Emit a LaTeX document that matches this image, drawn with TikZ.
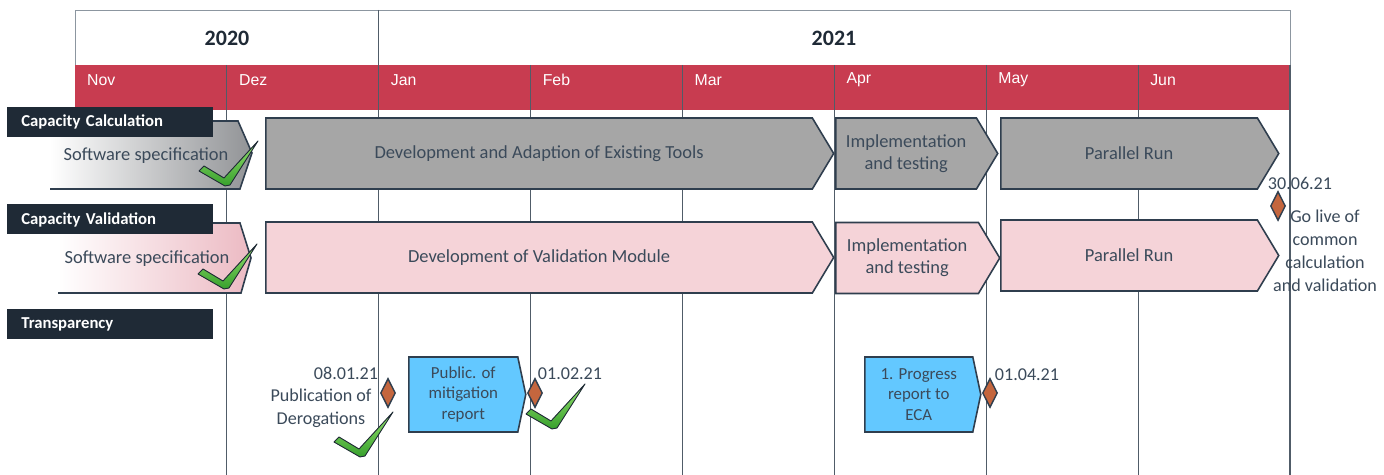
\documentclass[tikz,border=0pt]{standalone}
\usepackage{fontspec}
\setmainfont{Carlito}
\newfontfamily\monthfont{Liberation Sans}
\usetikzlibrary{shapes.symbols,shapes.geometric}
\definecolor{headred}{RGB}{200,60,80}
\definecolor{labeldark}{RGB}{31,42,54}
\definecolor{slate}{RGB}{59,74,90}
\definecolor{barline}{RGB}{47,62,78}
\definecolor{headline}{RGB}{140,150,160}
\definecolor{gridline}{RGB}{80,92,104}
\definecolor{calcgray}{RGB}{166,166,166}
\definecolor{specgray}{RGB}{145,147,150}
\definecolor{valpink}{RGB}{245,211,216}
\definecolor{specpink}{RGB}{236,186,195}
\definecolor{reportblue}{RGB}{99,200,255}
\definecolor{mileorange}{RGB}{196,102,62}
\definecolor{ticklight}{RGB}{150,225,110}
\definecolor{tickdeep}{RGB}{55,160,45}

\begin{document}
\begin{tikzpicture}[x=0.02cm, y=-0.02cm,
    month/.style={anchor=west, text=white, font=\monthfont\fontsize{9}{11}\selectfont},
    year/.style={text=labeldark, font=\bfseries\fontsize{12.5}{15}\selectfont},
    rowlabel/.style={anchor=west, fill=labeldark, text=white, text width=3.56cm, inner xsep=0.28cm, inner ysep=0pt, minimum height=0.6cm, align=left, font=\bfseries\fontsize{9.5}{11}\selectfont},
    chev/.style={shape=signal, signal to=east, signal pointer angle=118, draw=barline, line width=0.9pt, anchor=west, minimum height=1.42cm, inner sep=0pt, align=center, text=slate, font=\fontsize{10.5}{12.5}\selectfont},
    report/.style={shape=signal, signal to=east, signal pointer angle=156, fill=reportblue, draw=barline, line width=0.9pt, anchor=west, minimum height=1.5cm, inner sep=0pt, align=center, text=slate, font=\fontsize{9.6}{11.7}\selectfont},
    note/.style={text=slate, align=center, inner sep=0pt, font=\fontsize{10.3}{13}\selectfont},
    milestone/.style={shape=diamond, draw=barline, fill=mileorange, line width=0.8pt, inner sep=0pt, minimum width=0.3cm, minimum height=0.58cm},
    tick/.style={top color=ticklight, bottom color=tickdeep, draw=labeldark, line width=0.5pt, line join=round}]
    \newcommand{\monthw}{151.875}
    \newcommand{\donetick}[1]{\filldraw[tick, shift={#1}] (0,0) -- (-26,-15) -- (-21,-20) -- (-1,-8) -- (33,-45) -- (5,-1) -- cycle;}

    \useasboundingbox (0,0) rectangle (1384,475);

    \filldraw [fill=white, draw=headline] (75,10) rectangle (1290,65);
    \fill [headred] (75,65) rectangle (1290,110);
    \node[year] (y2020) at (227,38) {2020};
    \node[year] (y2021) at (834,38) {2021};
    \foreach \mname [count=\i] in {Nov,Dez,Jan,Feb,Mar,Apr,May,Jun}
        \node[month] (m\i) at ({75+\monthw*(\i-1)+6},80) {\mname};
    \foreach \i in {1,...,8}
        \draw [gridline, line width=0.6pt] ({75+\monthw*\i},65) -- ({75+\monthw*\i},475);
    \draw [gridline, line width=0.6pt] (378.75,10) -- (378.75,65);

    \shade [left color=white, right color=specgray] (50,121) -- (238,121) -- (252,153) -- (240,189) -- (50,189) -- cycle;
    \draw [barline, line width=0.9pt] (50,189) -- (240,189) -- (252,153) -- (238,121) -- (200,121);
    \node[note, font=\fontsize{10.5}{13}\selectfont] (spec1) at (146,156) {Software specification};
    \node[chev, fill=calcgray, minimum width=11.36cm] (dev1) at (265,153.5) {Development and Adaption of Existing Tools};
    \node[chev, fill=calcgray, minimum width=3.24cm] (impl1) at (835,153.5) {Implementation\\and testing};
    \node[chev, fill=calcgray, minimum width=5.56cm] (run1) at (1000,153.5) {Parallel Run};

    \shade [left color=white, right color=specpink] (58,223) -- (240,223) -- (251,258) -- (241,293) -- (58,293) -- cycle;
    \draw [barline, line width=0.9pt] (58,293) -- (241,293) -- (251,258) -- (240,223) -- (200,223);
    \node[note, font=\fontsize{10.5}{13}\selectfont] (spec2) at (147,259) {Software specification};
    \node[chev, fill=valpink, minimum width=11.36cm] (dev2) at (265,257.5) {Development of Validation Module};
    \node[chev, fill=valpink, minimum width=3.28cm] (impl2) at (835,258) {Implementation\\and testing};
    \node[chev, fill=valpink, minimum width=5.56cm] (run2) at (1000,255.5) {Parallel Run};

    \node[rowlabel] (calc) at (7,122) {Capacity Calculation};
    \node[rowlabel] (valid) at (7,219.5) {Capacity Validation};
    \node[rowlabel] (transp) at (7,324.5) {Transparency};

    \donetick{(225,186)}
    \donetick{(224,289)}

    \node[milestone] (golive) at (1278,206) {};
    \node[note] (d4) at (1300,183) {30.06.21};
    \node[note] (golivetext) at (1325,251) {Go live of\\common\\calculation\\and validation};

    \node[milestone] (ms1) at (388,393) {};
    \node[note] (d1) at (346,373) {08.01.21};
    \node[note] (derog) at (321,408) {Publication of\\Derogations};
    \node[report, minimum width=2.34cm] (mitig) at (408,394.5) {Public. of\\mitigation\\report};
    \node[milestone] (ms2) at (535,393) {};
    \node[note] (d2) at (570,374) {01.02.21};
    \node[report, minimum width=2.32cm] (progress) at (864,394.5) {1. Progress\\report to\\ECA};
    \node[milestone] (ms3) at (990,393) {};
    \node[note] (d3) at (1027,375) {01.04.21};

    \donetick{(360,457)}
    \donetick{(552,429)}

\end{tikzpicture}
\end{document}
